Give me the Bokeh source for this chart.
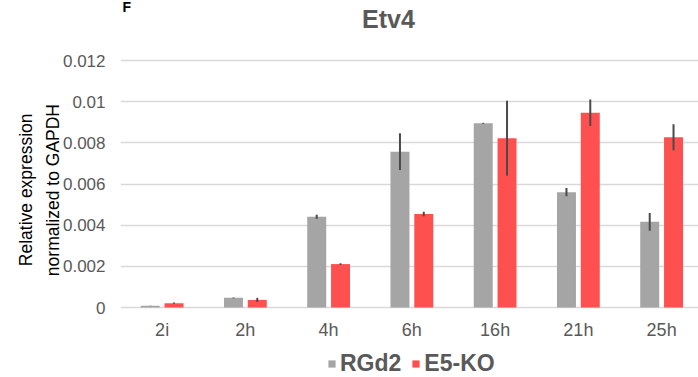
import math
from bokeh.plotting import figure
from bokeh.models import (ColumnDataSource, Range1d, FixedTicker, Label, Legend,
                          LegendItem, LinearAxis)
from bokeh.core.properties import value
from bokeh.transform import dodge
from bokeh.embed import file_html
from bokeh.resources import INLINE

# ---- data ----
timepoints = ["2i", "2h", "4h", "6h", "16h", "21h", "25h"]
rgd2 = [0.00008, 0.00047, 0.00441, 0.00757, 0.00895, 0.00560, 0.00416]
rgd2_err = [0.00001, 0.00002, 0.00010, 0.00089, 0.00002, 0.00020, 0.00043]
e5ko = [0.00021, 0.00037, 0.00211, 0.00454, 0.00822, 0.00946, 0.00827]
e5ko_err = [0.00003, 0.00010, 0.00004, 0.00011, 0.00182, 0.00064, 0.00063]
y_ticks = [0, 0.002, 0.004, 0.006, 0.008, 0.01, 0.012]
y_tick_labels = ["0", "0.002", "0.004", "0.006", "0.008", "0.01", "0.012"]
series_names = ["RGd2", "E5-KO"]
title_text = "Etv4"
panel_letter = "F"
ylabel_lines = ["Relative expression", "normalized to GAPDH"]

FONT = "Liberation Sans"
GRAY = "#A5A5A5"
RED = "#FF5050"
TXT = "#595959"

src = ColumnDataSource(dict(
    x=list(range(len(timepoints))),
    label=timepoints,
    rgd2=rgd2, e5ko=e5ko,
    rgd2_lo=[v - e for v, e in zip(rgd2, rgd2_err)],
    rgd2_hi=[v + e for v, e in zip(rgd2, rgd2_err)],
    e5ko_lo=[v - e for v, e in zip(e5ko, e5ko_err)],
    e5ko_hi=[v + e for v, e in zip(e5ko, e5ko_err)],
))

# frame spans x 120..698 and the full height; value 0 sits at y=307, 0.012 at y=60
PX = 247 / 0.012
Y_TOP = 307 / PX
Y_BOT = -70 / PX
p = figure(width=698, height=377, frame_width=578, frame_height=377, title=None,
           x_range=Range1d(-0.5, 6.443), y_range=Range1d(Y_BOT, Y_TOP),
           x_axis_location=None,
           output_backend="svg", toolbar_location=None,
           min_border_left=120, min_border_right=0,
           min_border_top=0, min_border_bottom=0)
p.outline_line_color = None

OFF = 0.143
BW = 0.228
r1 = p.vbar(x=dodge("x", -OFF), top="rgd2", bottom=0, width=BW, source=src,
            fill_color=GRAY, line_color=None)
r2 = p.vbar(x=dodge("x", OFF), top="e5ko", bottom=0, width=BW, source=src,
            fill_color=RED, line_color=None)
p.segment(x0=dodge("x", -OFF), x1=dodge("x", -OFF), y0="rgd2_lo", y1="rgd2_hi",
          source=src, line_color="#4a4a4a", line_width=2)
p.segment(x0=dodge("x", OFF), x1=dodge("x", OFF), y0="e5ko_lo", y1="e5ko_hi",
          source=src, line_color="#4a4a4a", line_width=2)

# category labels under the zero line
p.text(x="x", y=-22.8 / PX, text="label", source=src, text_align="center",
       text_baseline="middle", text_font=value(FONT), text_font_size=value("18px"),
       text_color=TXT)

def plain(ax):
    ax.axis_line_color = None
    ax.major_tick_line_color = None
    ax.minor_tick_line_color = None
    ax.major_tick_out = 0
    ax.major_tick_in = 0

# y axis
p.yaxis.ticker = FixedTicker(ticks=y_ticks)
p.yaxis.major_label_overrides = {v: s for v, s in zip(y_ticks, y_tick_labels)}
plain(p.yaxis[0])
p.yaxis.major_label_text_color = TXT
p.yaxis.major_label_text_font = FONT
p.yaxis.major_label_text_font_size = "17px"
p.yaxis.major_label_standoff = 15

for g in p.xgrid:
    g.grid_line_color = None
p.ygrid.ticker = FixedTicker(ticks=y_ticks)
p.ygrid.grid_line_color = "#D9D9D9"
p.ygrid.grid_line_width = 1.5

# two-line y label: rotated labels of tick-less axes, anchored at the text's top end
for line, y_end, stand in ((ylabel_lines[1], (307 - 103.5) / PX, 7),
                           (ylabel_lines[0], (307 - 113) / PX, 4)):
    ax = LinearAxis(ticker=FixedTicker(ticks=[y_end]),
                    major_label_overrides={y_end: line},
                    major_label_orientation=math.pi / 2,
                    major_label_standoff=stand,
                    major_label_text_font=FONT,
                    major_label_text_font_size="17.5px",
                    major_label_text_color="black")
    plain(ax)
    p.add_layout(ax, "left")

# panel letter and title, in the frame's top band
p.add_layout(Label(x=-0.476, y=(307 - 6.2) / PX, text=panel_letter, text_align="left",
                   text_baseline="middle", text_font=FONT, text_font_style="bold",
                   text_font_size="14px", text_color="black"))
p.add_layout(Label(x=2.719, y=(307 - 18.3) / PX, text=title_text, text_align="center",
                   text_baseline="alphabetic", text_font=FONT, text_font_style="bold",
                   text_font_size="25px", text_color=TXT))

legend = Legend(items=[LegendItem(label=series_names[0], renderers=[r1]),
                       LegendItem(label=series_names[1], renderers=[r2])],
                orientation="horizontal", location=(207, 0),
                glyph_width=9, glyph_height=9, label_standoff=4, spacing=10,
                padding=0, margin=0, border_line_color=None,
                background_fill_alpha=0,
                label_text_font=FONT, label_text_font_style="bold",
                label_text_font_size="23px", label_text_color=TXT)
p.add_layout(legend, "center")

open("out.html", "w").write(file_html(p, INLINE))
